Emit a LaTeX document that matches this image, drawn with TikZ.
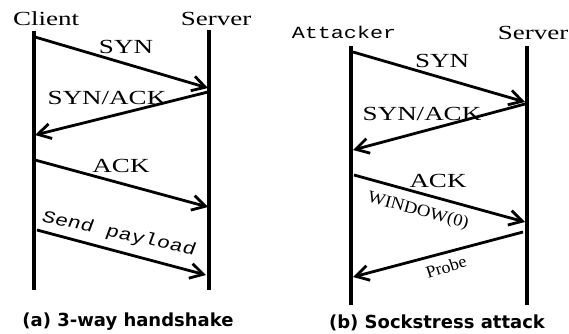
\documentclass[tikz,border=0pt]{standalone}
\usepackage{fontspec}
\setmainfont{Liberation Serif}
\newfontfamily\monofont{Liberation Mono}
\newfontfamily\capfont{DejaVu Sans}
\usetikzlibrary{arrows.meta}
\tikzset{
  lifeline/.style={line width=4.4pt},
  msg/.style={line width=2.8pt, -{Straight Barb[length=13pt,width=15pt,line width=2.8pt]}},
  actor/.style={font=\fontsize{20}{20}\selectfont, xscale=1.35, inner sep=0pt},
  mlabel/.style={font=\fontsize{20}{20}\selectfont, xscale=1.35, inner sep=0pt},
  ttlabel/.style={font=\monofont\fontsize{17}{17}\selectfont, xscale=1.3, inner sep=0pt},
  smalllabel/.style={font=\fontsize{17}{17}\selectfont, inner sep=0pt},
  caption/.style={font=\capfont\bfseries\fontsize{18}{18}\selectfont, inner sep=0pt}
}
\begin{document}
\begin{tikzpicture}[x=1pt,y=-1pt]
\useasboundingbox (0,0) rectangle (569,333);

% ---- (a) three-way handshake ----
\node[actor] (client) at (46,19) {Client};
\node[actor] (srva) at (216,19) {Server};
\coordinate (c0) at (34,31);   \coordinate (c1) at (34,290);
\coordinate (s0) at (209,30);  \coordinate (s1) at (209,290);
\draw[lifeline] (c0) -- (c1);
\draw[lifeline] (s0) -- (s1);

\coordinate (a1) at (35,37);   \coordinate (a2) at (208,88);
\coordinate (a3) at (208,92);  \coordinate (a4) at (35,135);
\coordinate (a5) at (35,160);  \coordinate (a6) at (208,207);
\coordinate (a7) at (37,230);  \coordinate (a8) at (206,275);
\draw[msg] (a1) -- (a2);
\draw[msg] (a3) -- (a4);
\draw[msg] (a5) -- (a6);
\draw[msg] (a7) -- (a8);
\node[mlabel] (syna) at (126,47) {SYN};
\node[mlabel] (synacka) at (107,98) {SYN/ACK};
\node[mlabel] (acka) at (121,166) {ACK};
\node[ttlabel, rotate=-16] (payload) at (119,234) {Send payload};
\node[caption] (capa) at (128,322) {(a) 3-way handshake};

% ---- (b) Sockstress attack ----
\node[font=\monofont\fontsize{17}{17}\selectfont, xscale=1.28, inner sep=0pt] (attacker) at (344,32) {Attacker};
\node[actor] (srvb) at (533,33) {Server};
\coordinate (k0) at (351,46);  \coordinate (k1) at (351,305);
\coordinate (v0) at (527,46);  \coordinate (v1) at (527,305);
\draw[lifeline] (k0) -- (k1);
\draw[lifeline] (v0) -- (v1);

\coordinate (b1) at (353,52);  \coordinate (b2) at (525,102);
\coordinate (b3) at (525,104); \coordinate (b4) at (353,150);
\coordinate (b5) at (354,175); \coordinate (b6) at (525,222);
\coordinate (b7) at (523,232); \coordinate (b8) at (353,277);
\draw[msg] (b1) -- (b2);
\draw[msg] (b3) -- (b4);
\draw[msg] (b5) -- (b6);
\draw[msg] (b7) -- (b8);
\node[mlabel] (synb) at (442,61) {SYN};
\node[mlabel] (synackb) at (422,114) {SYN/ACK};
\node[mlabel] (ackb) at (438,181) {ACK};
\node[smalllabel, rotate=-15, xscale=1.1] (window) at (418,211) {WINDOW(0)};
\node[smalllabel, rotate=18, xscale=1.05] (probe) at (446,267) {Probe};
\node[caption] (capb) at (437,323) {(b) Sockstress attack};
\end{tikzpicture}
\end{document}
